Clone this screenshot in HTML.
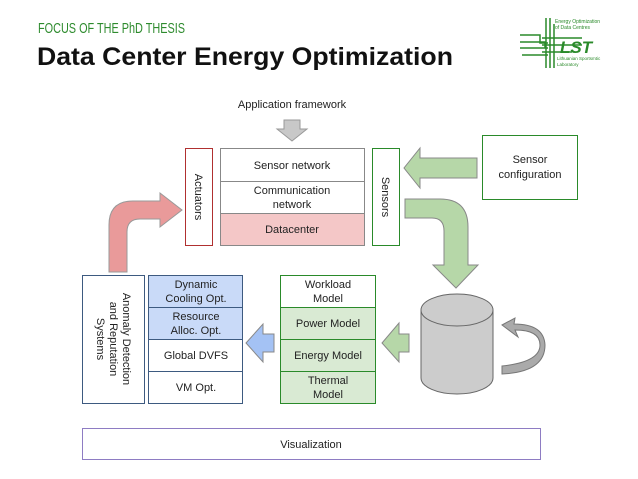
<!DOCTYPE html>
<html><head><meta charset="utf-8"><style>
html,body{margin:0;padding:0;background:#fff;}
svg{display:block;font-family:"Liberation Sans",sans-serif;}
</style></head><body>
<svg width="638" height="479" viewBox="0 0 638 479">
<text x="38" y="33" font-size="15" fill="#2e8b2e" font-family="Liberation Sans Narrow, Liberation Sans, sans-serif" textLength="147" lengthAdjust="spacingAndGlyphs">FOCUS OF THE PhD THESIS</text>
<text x="37" y="65" font-size="25" font-weight="bold" fill="#111" textLength="416" lengthAdjust="spacingAndGlyphs">Data Center Energy Optimization</text>
<!-- logo -->
<g stroke="#2a8a2a" stroke-width="1.5" fill="none">
<path d="M520 35h20v8h8M520 42h25v6M520 48h28M522 55h26M546 18v50M550 18v50M554 24v44M542 38h40M542 45h40M542 52h30"/>
</g>
<text x="555" y="23" font-size="5" fill="#2a8a2a">Energy Optimization</text>
<text x="555" y="29" font-size="5" fill="#2a8a2a">of Data Centres</text>
<text x="560" y="53" font-size="17" font-weight="bold" font-style="italic" fill="#2a8a2a">LST</text>
<text x="557" y="60" font-size="4.5" fill="#2a8a2a">Lithuanian Sportsmtic</text>
<text x="557" y="66" font-size="4.5" fill="#2a8a2a">Laboratory</text>

<text x="292" y="108" font-size="11" text-anchor="middle" fill="#222">Application framework</text>
<polygon points="284,120 300,120 300,129 307,129 292,141 277,129 284,129" fill="#c8c8c8" stroke="#999"/>

<rect x="185.5" y="148.5" width="27" height="97" fill="#fff" stroke="#b03030"/>
<text transform="translate(195,197) rotate(90)" font-size="11" text-anchor="middle" fill="#222">Actuators</text>
<rect x="220.5" y="148.5" width="144" height="33" fill="#fff" stroke="#888"/>
<rect x="220.5" y="181.5" width="144" height="32" fill="#fff" stroke="#888"/>
<rect x="220.5" y="213.5" width="144" height="32" fill="#f4c7c7" stroke="#888"/>
<text x="292" y="169" font-size="11" text-anchor="middle" fill="#222">Sensor network</text>
<text x="292" y="194" font-size="11" text-anchor="middle" fill="#222">Communication</text>
<text x="292" y="208" font-size="11" text-anchor="middle" fill="#222">network</text>
<text x="292" y="233" font-size="11" text-anchor="middle" fill="#222">Datacenter</text>
<rect x="372.5" y="148.5" width="27" height="97" fill="#fff" stroke="#2a8a2a"/>
<text transform="translate(382,197) rotate(90)" font-size="11" text-anchor="middle" fill="#222">Sensors</text>

<rect x="482.5" y="135.5" width="95" height="64" fill="#fff" stroke="#2a8a2a"/>
<text x="530" y="163" font-size="11" text-anchor="middle" fill="#222">Sensor</text>
<text x="530" y="178" font-size="11" text-anchor="middle" fill="#222">configuration</text>
<polygon points="477,158 420,158 420,148 404,168 420,188 420,178 477,178" fill="#b6d7a8" stroke="#888"/>

<!-- red arrow -->
<path d="M109,272 V225 Q109,201 133,201 H160 V193 L182,210 L160,227 V219 H140 Q127,219 127,232 V272 Z" fill="#e99a9a" stroke="#999"/>
<!-- green curved down arrow -->
<path d="M405,199 H440 Q468,199 468,227 V265 H478 L456,288 L433,265 H444 V231 Q444,218 432,218 H405 Z" fill="#b6d7a8" stroke="#888"/>

<!-- cylinder -->
<path d="M421,310 V378 A36,16 0 0 0 493,378 V310" fill="#cccccc" stroke="#666"/>
<ellipse cx="457" cy="310" rx="36" ry="16" fill="#cccccc" stroke="#666"/>
<!-- gray curved arrow -->
<path d="M502,366 Q540,362 540,345 Q540,330 515,330 L518,337 L502,325 L515,318 L514,324 Q544,324 545,345 Q545,372 502,374 Z" fill="#aaa" stroke="#777"/>

<!-- green left arrow -->
<polygon points="409,334 399,334 399,323 382,343 399,362 399,352 409,352" fill="#b6d7a8" stroke="#888"/>
<!-- green stack -->
<rect x="280.5" y="275.5" width="95" height="32" fill="#fff" stroke="#2a8a2a"/>
<rect x="280.5" y="307.5" width="95" height="32" fill="#d9ead3" stroke="#2a8a2a"/>
<rect x="280.5" y="339.5" width="95" height="32" fill="#d9ead3" stroke="#2a8a2a"/>
<rect x="280.5" y="371.5" width="95" height="32" fill="#d9ead3" stroke="#2a8a2a"/>
<text x="328" y="288" font-size="11" text-anchor="middle" fill="#222">Workload</text>
<text x="328" y="302" font-size="11" text-anchor="middle" fill="#222">Model</text>
<text x="328" y="327" font-size="11" text-anchor="middle" fill="#222">Power Model</text>
<text x="328" y="359" font-size="11" text-anchor="middle" fill="#222">Energy Model</text>
<text x="328" y="384" font-size="11" text-anchor="middle" fill="#222">Thermal</text>
<text x="328" y="398" font-size="11" text-anchor="middle" fill="#222">Model</text>
<!-- blue arrow -->
<polygon points="274,334 263,334 263,324 246,343 263,362 263,352 274,352" fill="#a4c2f4" stroke="#888"/>
<!-- blue stack -->
<rect x="148.5" y="275.5" width="94" height="32" fill="#c9daf8" stroke="#3d5a80"/>
<rect x="148.5" y="307.5" width="94" height="32" fill="#c9daf8" stroke="#3d5a80"/>
<rect x="148.5" y="339.5" width="94" height="32" fill="#fff" stroke="#3d5a80"/>
<rect x="148.5" y="371.5" width="94" height="32" fill="#fff" stroke="#3d5a80"/>
<text x="196" y="288" font-size="11" text-anchor="middle" fill="#222">Dynamic</text>
<text x="196" y="302" font-size="11" text-anchor="middle" fill="#222">Cooling Opt.</text>
<text x="196" y="320" font-size="11" text-anchor="middle" fill="#222">Resource</text>
<text x="196" y="334" font-size="11" text-anchor="middle" fill="#222">Alloc. Opt.</text>
<text x="196" y="359" font-size="11" text-anchor="middle" fill="#222">Global DVFS</text>
<text x="196" y="391" font-size="11" text-anchor="middle" fill="#222">VM Opt.</text>
<rect x="82.5" y="275.5" width="62" height="128" fill="#fff" stroke="#3d5a80"/>
<g font-size="11" fill="#222" text-anchor="middle">
<text transform="translate(123,339) rotate(90)">Anomaly Detection</text>
<text transform="translate(110,339) rotate(90)">and Reputation</text>
<text transform="translate(97,339) rotate(90)">Systems</text>
</g>
<rect x="82.5" y="428.5" width="458" height="31" fill="#fff" stroke="#8e7cc3"/>
<text x="311" y="448" font-size="11" text-anchor="middle" fill="#222">Visualization</text>
</svg>
</body></html>
